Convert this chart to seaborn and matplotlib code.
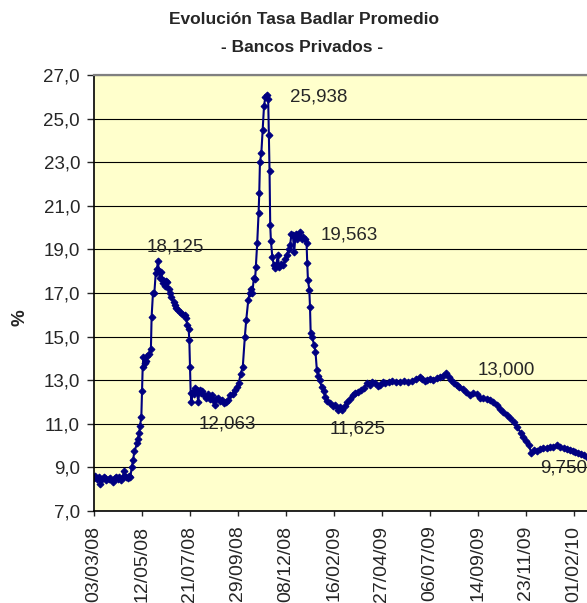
import pandas as pd
import numpy as np
import matplotlib
matplotlib.use("Agg")
import matplotlib.pyplot as plt
import matplotlib.dates as mdates
from matplotlib.ticker import FuncFormatter
import seaborn as sns

# --- data (days after 03/03/08, rate in %) ---
inicio = pd.Timestamp("2008-03-03")
dias = [0, 2, 4, 7, 9, 11, 14, 16, 18, 22, 24, 28, 30, 32, 35, 37, 39, 42, 44, 46,
        49, 51, 53, 55, 57, 59, 63, 64, 66, 67, 69, 70, 71, 72, 74, 76, 78, 80, 83, 84,
        86, 88, 90, 92, 93, 95, 96, 98, 100, 101, 103, 105, 107, 109, 111, 113, 116, 118, 120, 123,
        126, 129, 132, 134, 136, 138, 139, 140, 141, 142, 144, 146, 148, 150, 152, 154, 156, 158, 161, 164,
        166, 169, 172, 174, 176, 178, 181, 184, 187, 190, 193, 196, 199, 202, 205, 208, 211, 214, 217, 220,
        222, 225, 227, 229, 231, 233, 235, 236, 238, 240, 241, 242, 244, 246, 248, 250, 252, 254, 255, 256,
        257, 258, 260, 262, 264, 266, 268, 270, 273, 276, 279, 281, 284, 286, 288, 290, 292, 294, 296, 298,
        301, 303, 305, 308, 310, 311, 312, 314, 315, 316, 318, 321, 323, 325, 327, 329, 332, 335, 337, 340,
        344, 348, 352, 356, 359, 362, 366, 369, 373, 377, 381, 385, 390, 394, 398, 402, 406, 410, 414, 417,
        421, 425, 430, 435, 441, 446, 452, 458, 464, 470, 475, 478, 482, 486, 490, 495, 500, 505, 509, 513,
        517, 521, 525, 529, 533, 538, 543, 548, 553, 558, 563, 568, 573, 578, 582, 587, 592, 597, 602, 607,
        612, 617, 622, 626, 630, 634, 638, 642, 646, 650, 655, 660, 665, 670, 675, 680, 685, 690, 694, 698,
        702, 706, 710, 714, 719, 724]
tasa = [8.50, 8.60, 8.45, 8.55, 8.25, 8.45, 8.55, 8.50, 8.40, 8.45, 8.50, 8.35, 8.50, 8.55, 8.45, 8.55, 8.40, 8.55, 8.85, 8.55,
        8.50, 8.60, 8.55, 9.00, 9.35, 9.75, 10.10, 10.30, 10.60, 10.90, 11.30, 12.50, 13.60, 14.05, 13.80, 13.90, 14.10, 14.20, 14.45, 15.90,
        17.00, 17.00, 17.90, 18.10, 18.45, 18.00, 17.70, 17.95, 17.60, 17.45, 17.30, 17.55, 17.50, 17.20, 17.00, 16.80, 16.60, 16.45, 16.30, 16.20,
        16.15, 16.05, 16.00, 15.85, 15.55, 15.35, 14.85, 13.60, 12.40, 12.00, 12.45, 12.35, 12.65, 12.55, 12.00, 12.55, 12.40, 12.50, 12.30, 12.20,
        12.35, 12.15, 12.30, 12.10, 11.85, 12.15, 12.20, 12.05, 12.10, 11.95, 12.00, 12.10, 12.30, 12.35, 12.55, 12.70, 12.86, 13.30, 13.62, 15.00,
        15.76, 16.68, 17.00, 17.20, 17.00, 17.67, 17.65, 18.20, 19.28, 20.66, 21.57, 23.00, 23.40, 24.48, 25.60, 26.00, 26.10, 25.90, 24.25, 22.60,
        20.10, 19.40, 18.67, 18.30, 18.15, 18.30, 18.75, 18.20, 18.35, 18.30, 18.55, 18.74, 19.00, 19.20, 19.70, 19.65, 18.90, 19.70, 19.50, 19.65,
        19.80, 19.50, 19.55, 19.50, 19.28, 18.36, 17.60, 17.14, 16.37, 15.15, 15.00, 14.60, 14.30, 13.47, 13.20, 13.00, 12.70, 12.50, 12.24, 12.05,
        11.94, 11.80, 11.86, 11.63, 11.75, 11.65, 11.80, 12.01, 12.15, 12.32, 12.40, 12.47, 12.55, 12.63, 12.86, 12.80, 12.90, 12.85, 12.75, 12.80,
        12.90, 12.86, 12.90, 12.95, 12.94, 12.90, 12.98, 12.90, 12.98, 13.04, 13.15, 13.05, 12.95, 13.00, 13.05, 13.00, 13.10, 13.13, 13.20, 13.32,
        13.15, 13.00, 12.85, 12.78, 12.70, 12.60, 12.45, 12.32, 12.40, 12.35, 12.20, 12.17, 12.15, 12.09, 12.00, 11.86, 11.70, 11.55, 11.40, 11.25,
        11.10, 10.87, 10.60, 10.41, 10.20, 10.03, 9.65, 9.80, 9.75, 9.85, 9.88, 9.90, 9.95, 9.92, 10.03, 9.95, 9.90, 9.85, 9.80, 9.75,
        9.70, 9.65, 9.60, 9.57, 9.50, 9.45]

etiquetas = ["18,125", "12,063", "25,938", "19,563", "11,625", "13,000", "9,750"]
# where each data label sits (days after start, y in %)
etiq_dias = [118, 195, 327, 372, 384, 602, 685]
etiq_y = [19.12, 10.99, 25.97, 19.66, 10.78, 13.47, 8.95]

df = pd.DataFrame({"fecha": inicio + pd.to_timedelta(dias, unit="D"), "tasa": tasa})

sns.set_style("white")
plt.rcParams["font.family"] = ["Liberation Sans", "DejaVu Sans"]

fig = plt.figure(figsize=(5.87, 6.03), dpi=100)
ax = fig.add_axes([94 / 587, 92 / 603, 546 / 587, 436 / 603])
ax.set_facecolor("#FFFFCC")

sns.lineplot(data=df, x="fecha", y="tasa", ax=ax, color="#000080", lw=1.5,
             marker="D", markersize=3.5, markeredgecolor="#000080")

for t, d, y in zip(etiquetas, etiq_dias, etiq_y):
    ax.text(inicio + pd.Timedelta(days=d), y, t, ha="center", va="center", fontsize=13.5)

ax.set_ylim(7, 27)
ax.set_xlim(inicio, inicio + pd.Timedelta(days=546 / 0.6857))
ax.set_yticks(np.arange(7, 28, 2))
ax.yaxis.set_major_formatter(FuncFormatter(lambda v, p: f"{v:.1f}".replace(".", ",")))
ax.set_xticks(pd.date_range(inicio, periods=11, freq="70D"))
ax.xaxis.set_major_formatter(mdates.DateFormatter("%d/%m/%y"))
ax.grid(axis="y", color="black", lw=0.8)
ax.set_axisbelow(True)

for s in ["left", "bottom"]:
    ax.spines[s].set_color("black")
    ax.spines[s].set_linewidth(1.2)
ax.spines["top"].set_color("#808080")
ax.spines["top"].set_linewidth(1.6)
ax.spines["right"].set_visible(False)

ax.tick_params(axis="y", direction="out", length=5, width=1, pad=5, labelsize=13.5, left=True)
ax.tick_params(axis="x", direction="out", length=3.5, width=1, pad=7, labelsize=14,
               labelrotation=90, bottom=True)
ax.set_xlabel("")
ax.set_ylabel("")

fig.text(304 / 587, 1 - 20 / 603, "Evolución Tasa Badlar Promedio", ha="center", va="center",
         fontsize=12.5, fontweight="bold")
fig.text(302 / 587, 1 - 47 / 603, "- Bancos Privados -", ha="center", va="center",
         fontsize=12.5, fontweight="bold")
fig.text(20 / 587, 1 - 318 / 603, "%", ha="center", va="center", rotation=90,
         fontsize=13.5, fontweight="bold")

fig.savefig("out.png", dpi=100)
